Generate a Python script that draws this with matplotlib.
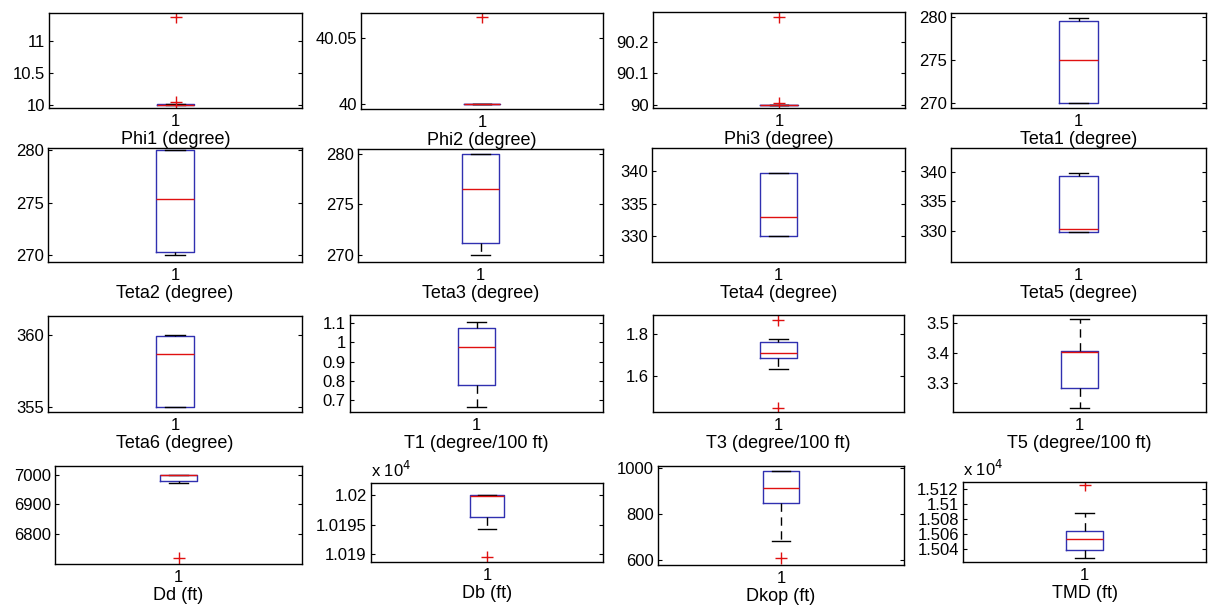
import matplotlib.pyplot as plt
from matplotlib.ticker import FixedLocator, FuncFormatter

plt.rcParams['font.family'] = ['Liberation Sans', 'DejaVu Sans']

# one entry per panel
labels = ['Phi1 (degree)', 'Phi2 (degree)', 'Phi3 (degree)', 'Teta1 (degree)',
          'Teta2 (degree)', 'Teta3 (degree)', 'Teta4 (degree)', 'Teta5 (degree)',
          'Teta6 (degree)', 'T1 (degree/100 ft)', 'T3 (degree/100 ft)', 'T5 (degree/100 ft)',
          'Dd (ft)', 'Db (ft)', 'Dkop (ft)', 'TMD (ft)']
q1 = [10.0, 40.0, 90.0, 270.0, 270.3, 271.2, 330.0, 329.8,
      355.0, 0.776, 1.688, 3.283, 6979, 10196.4, 850, 15038.6]
med = [10.0, 40.0, 90.0, 275.0, 275.3, 276.5, 333.0, 330.3,
       358.65, 0.978, 1.709, 3.401, 6998, 10199.9, 915, 15052.2]
q3 = [10.02, 40.0, 90.0, 279.6, 280.0, 280.0, 339.7, 339.3,
      359.9, 1.076, 1.761, 3.407, 7000, 10200, 990, 15063.4]
whislo = [10.0, 40.0, 90.0, 270.0, 270.0, 270.0, 330.0, 329.8,
          355.0, 0.662, 1.636, 3.217, 6971, 10194.3, 681, 15027.8]
whishi = [10.02, 40.0, 90.0, 279.9, 280.0, 280.0, 339.7, 339.8,
          359.95, 1.107, 1.778, 3.512, 7000, 10200, 990, 15087.6]
fliers = [[11.37, 10.04], [40.066], [90.28, 90.007], [],
          [], [], [], [],
          [], [], [1.868, 1.453], [],
          [6720], [10189.5], [609], [15126]]
ylims = [(9.95, 11.44), (39.996, 40.069), (89.99, 90.295), (269.4, 280.5),
         (269.35, 280.2), (269.3, 280.5), (326.1, 343.5), (324.7, 344.0),
         (354.65, 361.3), (0.6375, 1.142), (1.432, 1.891), (3.204, 3.525),
         (6701, 7028.7), (10188.7, 10202.1), (578, 1010), (15021.9, 15129.5)]
yticks = [[10, 10.5, 11], [40, 40.05], [90, 90.1, 90.2], [270, 275, 280],
          [270, 275, 280], [270, 275, 280], [330, 335, 340], [330, 335, 340],
          [355, 360], [0.7, 0.8, 0.9, 1.0, 1.1], [1.6, 1.8], [3.3, 3.4, 3.5],
          [6800, 6900, 7000], [10190, 10195, 10200], [600, 800, 1000],
          [15040, 15060, 15080, 15100, 15120]]
scaled = [False] * 13 + [True, False, True]

# panel boxes in pixels: left, top, right, bottom
rects = [(49, 13, 302, 108), (361, 13, 603, 109), (653, 12, 905, 108), (951, 13, 1206, 108),
         (48, 148, 302, 262), (358, 149, 603, 262), (652, 148, 905, 262), (951, 148, 1206, 262),
         (48, 316, 302, 412), (350, 315, 603, 412), (653, 315, 904, 412), (953, 315, 1206, 412),
         (55, 466, 302, 564), (371, 483, 603, 562), (658, 466, 904, 565), (963, 482, 1206, 562)]

W, H = 1208, 607
fig = plt.figure(figsize=(W / 100, H / 100), dpi=100)

for i in range(16):
    l, t, r, b = rects[i]
    ax = fig.add_axes([l / W, 1 - b / H, (r - l) / W, (b - t) / H])
    st = dict(med=med[i], q1=q1[i], q3=q3[i], whislo=whislo[i], whishi=whishi[i],
              fliers=fliers[i])
    ax.bxp([st], positions=[1], widths=0.15, showfliers=True,
           boxprops=dict(color='#3030b0', linewidth=1),
           medianprops=dict(color='#e01010', linewidth=1),
           whiskerprops=dict(color='black', linewidth=1, linestyle=(0, (6, 4))),
           capprops=dict(color='black', linewidth=1),
           capwidths=0.075,
           flierprops=dict(marker='+', markeredgecolor='#e01010', markersize=8,
                           markeredgewidth=1, linestyle='none'))
    ax.set_xlim(0.5, 1.5)
    ax.set_ylim(*ylims[i])
    ax.set_xticks([1])
    ax.set_xticklabels(['1'])
    ax.yaxis.set_major_locator(FixedLocator(yticks[i]))
    if scaled[i]:
        ax.yaxis.set_major_formatter(FuncFormatter(lambda v, p: '%g' % round(v / 1e4, 6)))
        ax.text(0, 1.04, r'x 10$^4$', transform=ax.transAxes, ha='left', va='bottom',
                fontsize=12)
    else:
        ax.yaxis.set_major_formatter(FuncFormatter(lambda v, p: '%g' % round(v, 6)))
    ax.tick_params(axis='y', direction='in', right=True, length=3, labelsize=12, pad=3)
    ax.tick_params(axis='x', length=0, labelsize=12, pad=4)
    ax.set_xlabel(labels[i], fontsize=13, labelpad=1.5)
    for s in ax.spines.values():
        s.set_linewidth(1)

fig.savefig('out.png', dpi=100)
